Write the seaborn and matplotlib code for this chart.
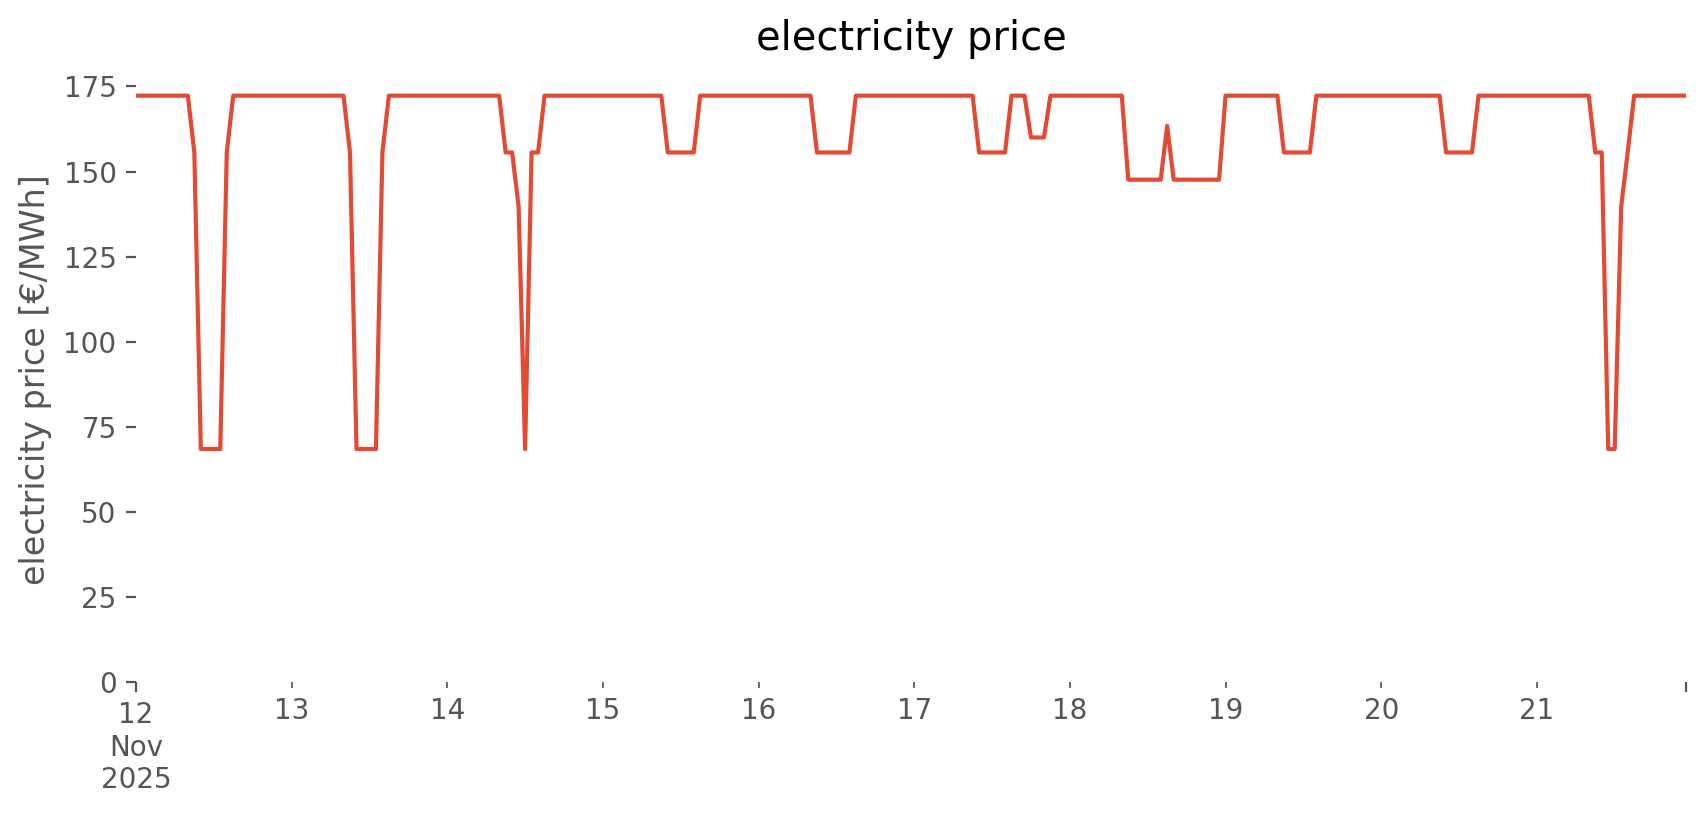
import numpy as np
import pandas as pd
import matplotlib
matplotlib.use("Agg")
import matplotlib.pyplot as plt
import matplotlib.dates as mdates
import seaborn as sns

# hourly day-ahead prices [EUR/MWh], one list per day (00:00 .. 23:00)
nov12 = [172.3] * 9 + [155.6] + [68.4] * 4 + [155.6] + [172.3] * 9
nov13 = [172.3] * 9 + [155.6] + [68.4] * 4 + [155.6] + [172.3] * 9
nov14 = [172.3] * 9 + [155.6, 155.6, 139.7, 68.4, 155.6, 155.6] + [172.3] * 9
nov15 = [172.3] * 10 + [155.6] * 5 + [172.3] * 9
nov16 = [172.3] * 9 + [155.6] * 6 + [172.3] * 9
nov17 = [172.3] * 10 + [155.6] * 5 + [172.3] * 3 + [160.0] * 3 + [172.3] * 3
nov18 = [172.3] * 9 + [147.6] * 6 + [163.4] + [147.6] * 8
nov19 = [172.3] * 9 + [155.6] * 5 + [172.3] * 10
nov20 = [172.3] * 10 + [155.6] * 5 + [172.3] * 9
nov21 = [172.3] * 9 + [155.6, 155.6, 68.4, 68.4, 139.7, 155.6] + [172.3] * 9

days = [nov12, nov13, nov14, nov15, nov16, nov17, nov18, nov19, nov20, nov21]
day_labels = ["13", "14", "15", "16", "17", "18", "19", "20", "21"]

prices = [p for day in days for p in day]
df = pd.DataFrame({
    "time": pd.date_range("2025-11-12 00:00", periods=len(prices), freq="h"),
    "price": prices,
})

sns.set_theme(style="white", rc={
    "font.size": 10,
    "axes.titlesize": 14.4,
    "axes.labelsize": 12,
    "axes.labelcolor": "#555555",
    "xtick.color": "#555555",
    "ytick.color": "#555555",
    "xtick.labelsize": 10,
    "ytick.labelsize": 10,
    "xtick.direction": "out",
    "ytick.direction": "out",
    "xtick.bottom": True,
    "ytick.left": True,
    "xtick.major.size": 3.5,
    "xtick.minor.size": 2,
    "ytick.major.size": 3.5,
    "xtick.major.width": 0.8,
    "xtick.minor.width": 0.6,
    "ytick.major.width": 0.8,
})
plt.rcParams["font.family"] = ["DejaVu Sans"]

fig = plt.figure(figsize=(8.53, 4.075), dpi=200)
ax = fig.add_axes([0.0797, 0.1636, 0.9086, 0.7407])

sns.lineplot(data=df, x="time", y="price", color="#E24A33", linewidth=1.5, ax=ax)

ax.set_xlim(df["time"].iloc[0], df["time"].iloc[-1])
ax.set_ylim(bottom=0)
ax.set_yticks(np.arange(0, 176, 25))

# pandas-style date ticks: major at start/end, minor at each day
start = mdates.date2num(df["time"].iloc[0])
end = mdates.date2num(df["time"].iloc[-1])
ax.set_xticks([start, end], labels=["12\nNov\n2025", ""])
day_ticks = [mdates.date2num(t) for t in pd.date_range("2025-11-13", periods=9, freq="D")]
ax.set_xticks(day_ticks, labels=day_labels, minor=True)

for s in ax.spines.values():
    s.set_visible(False)
ax.grid(False)

ax.set_xlabel("")
ax.set_ylabel("electricity price [€/MWh]")
ax.set_title("electricity price", color="black", pad=10)

fig.savefig("out.png", dpi=200)
